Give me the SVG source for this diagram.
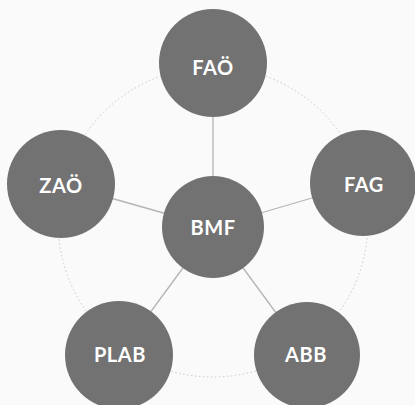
<svg xmlns="http://www.w3.org/2000/svg" width="415" height="405" viewBox="0 0 415 405">
<style>
.node{fill:#727272;}
.lbl{fill:#ffffff;font-family:Lato,"Open Sans",sans-serif;font-weight:bold;font-size:20px;letter-spacing:0.6px;text-anchor:middle;}
.link{stroke:#b5b5b5;stroke-width:1.3;fill:none;}
.ring{stroke:#c8c8c8;stroke-width:1;stroke-dasharray:1.5 2.5;fill:none;}
</style>
<rect width="415" height="405" fill="#fafafa"/>
<g id="connectors">
<circle class="ring" cx="213" cy="222" r="155"/>
<line class="link" x1="213" y1="63" x2="213" y2="227"/>
<line class="link" x1="61" y1="184" x2="213" y2="227"/>
<line class="link" x1="363" y1="183" x2="213" y2="227"/>
<line class="link" x1="119" y1="355" x2="213" y2="227"/>
<line class="link" x1="307" y1="355" x2="213" y2="227"/>
</g>
<g id="FAO"><circle class="node" cx="213" cy="63" r="54"/><text class="lbl" x="213" y="75">FAÖ</text></g>
<g id="ZAO"><circle class="node" cx="61" cy="184" r="54"/><text class="lbl" x="61" y="193">ZAÖ</text></g>
<g id="FAG"><circle class="node" cx="363" cy="183" r="53"/><text class="lbl" x="364" y="192">FAG</text></g>
<g id="BMF"><circle class="node" cx="213" cy="227" r="51"/><text class="lbl" x="213" y="235">BMF</text></g>
<g id="PLAB"><circle class="node" cx="119" cy="355" r="54"/><text class="lbl" x="120" y="362">PLAB</text></g>
<g id="ABB"><circle class="node" cx="307" cy="355" r="53"/><text class="lbl" x="306" y="362">ABB</text></g>
</svg>
